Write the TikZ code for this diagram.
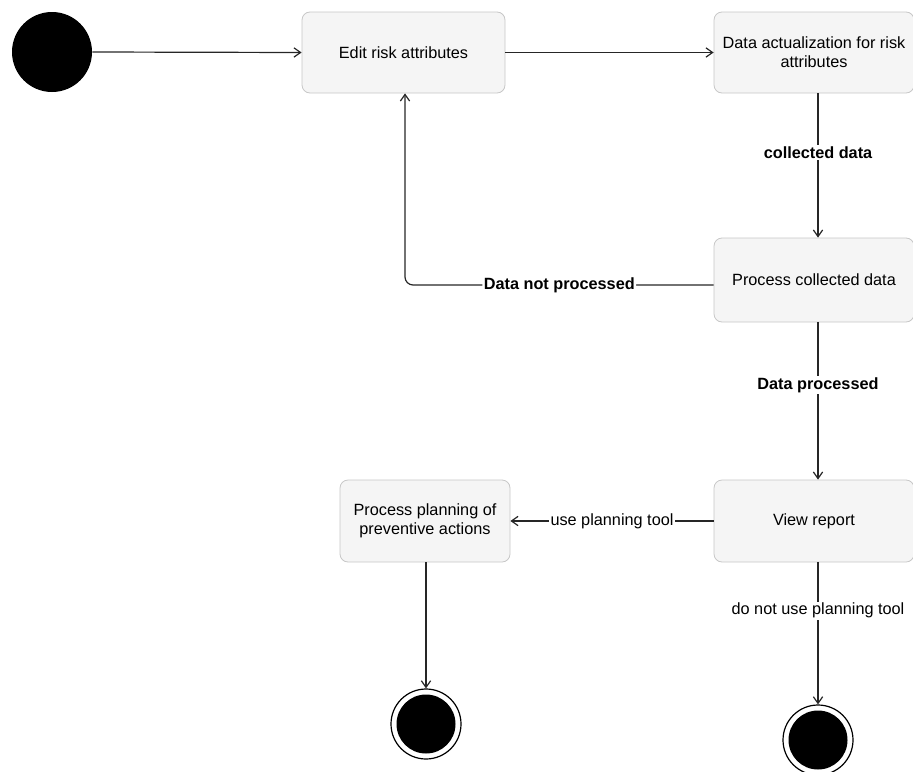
\documentclass[tikz,border=0pt]{standalone}
\usepackage{fontspec}
\setmainfont{Liberation Sans}
\usetikzlibrary{arrows.meta,positioning}
\begin{document}
\begin{tikzpicture}[x=0.75pt,y=-0.75pt,
  font=\fontsize{12.2}{14.5}\selectfont,
  state/.style={draw=black!22, fill=black!4, rounded corners=6pt, line width=0.6pt, inner sep=0pt, align=center},
  flow/.style={draw=black!85, line width=0.9pt, -{Straight Barb[length=5pt,width=7pt]}},
  lab/.style={fill=white, inner sep=1pt},
  blab/.style={fill=white, inner sep=1pt, font=\fontsize{12.2}{14.5}\selectfont\bfseries}]
\useasboundingbox (0,0) rectangle (913,771);
\node[circle, fill=black, minimum size=80*0.75pt, inner sep=0pt] (start) at (52,52) {};
\node[state, minimum width=203*0.75pt, minimum height=81*0.75pt] (edit) at (403.5,52.5) {Edit risk attributes};
\node[state, minimum width=200*0.75pt, minimum height=81*0.75pt] (actual) at (814,52.5) {Data actualization for risk\\attributes};
\node[state, minimum width=200*0.75pt, minimum height=84*0.75pt] (proc) at (814,280) {Process collected data};
\node[state, minimum width=200*0.75pt, minimum height=82*0.75pt] (view) at (814,521) {View report};
\node[state, minimum width=170*0.75pt, minimum height=82*0.75pt] (plan) at (425,521) {Process planning of\\preventive actions};
\node[circle, draw=black, line width=0.9pt, fill=white, minimum size=70*0.75pt, inner sep=0pt] (end1) at (426,724) {};
\node[circle, fill=black, minimum size=59*0.75pt, inner sep=0pt] at (end1) {};
\node[circle, draw=black, line width=0.9pt, fill=white, minimum size=70*0.75pt, inner sep=0pt] (end2) at (818,740) {};
\node[circle, fill=black, minimum size=59*0.75pt, inner sep=0pt] at (end2) {};
\coordinate (c1) at (405,285);
\draw[flow] (start.east) -- (edit.west);
\draw[flow] (edit.east) -- (actual.west);
\draw[flow] (actual.south -| 818,0) -- node[blab, pos=0.41] {collected data} (proc.north -| 818,0);
\draw[flow, rounded corners=6pt] (proc.west |- c1) -- node[blab] {Data not processed} (c1) -- (edit.south -| c1);
\draw[flow] (proc.south -| 818,0) -- node[blab, pos=0.4] {Data processed} (view.north -| 818,0);
\draw[flow] (view.west) -- node[lab, pos=0.5] {use planning tool} (plan.east);
\draw[flow] (plan.south -| end1) -- (end1.north);
\draw[flow] (view.south -| end2) -- node[lab, pos=0.34] {do not use planning tool} (end2.north);
\end{tikzpicture}
\end{document}
